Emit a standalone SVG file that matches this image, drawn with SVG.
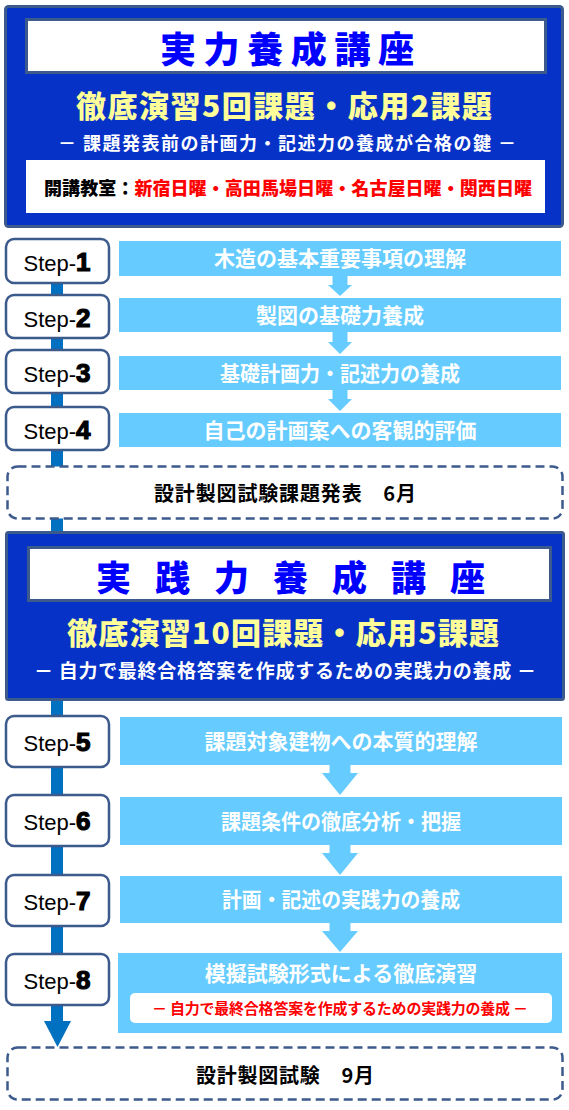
<svg xmlns="http://www.w3.org/2000/svg" width="569" height="1110" viewBox="0 0 569 1110">
<style>
.jp{font-family:'Noto Sans CJK JP','Noto Sans CJK SC',sans-serif;}
.outer{fill:#0632c8;stroke:#3d5a8c;stroke-width:3;}
.tbox{fill:#ffffff;stroke:#3d5a8c;stroke-width:3;}
.title{font-weight:900;fill:#0000ff;}
.yel{font-weight:900;fill:#ffff99;}
.wsub{font-weight:700;fill:#ffffff;}
.stepbox{fill:#ffffff;stroke:#3d5a8c;stroke-width:2.5;}
.steptxt{font-family:'Liberation Sans',Arial,sans-serif;font-size:22px;fill:#000000;}
.num{font-family:'Liberation Sans',Arial,sans-serif;font-weight:700;font-size:26px;stroke:#000;stroke-width:1.2;}
.bar{fill:#66ccff;}
.bartxt{font-weight:700;font-size:21px;fill:#ffffff;}
.dash{fill:#ffffff;stroke:#3d5a8c;stroke-width:2.5;stroke-dasharray:9 5;}
.btxt{font-weight:700;font-size:20px;fill:#000000;}
.conn{fill:#0070c0;}
.arr{fill:#66ccff;}
</style>

<g id="connectors">
  <rect class="conn" x="51" y="280" width="12" height="743"/>
  <polygon class="conn" points="44,1021 71,1021 57.5,1047"/>
  <polygon class="arr" points="332.5,275 347.5,275 347.5,285 352,285 340,296 328,285 332.5,285"/>
  <polygon class="arr" points="332.5,331 347.5,331 347.5,342 352,342 340,354 328,342 332.5,342"/>
  <polygon class="arr" points="332.5,389 347.5,389 347.5,399 352,399 340,411 328,399 332.5,399"/>
  <polygon class="arr" points="329.5,764 350.5,764 350.5,773 358,773 340,795 322,773 329.5,773"/>
  <polygon class="arr" points="329.5,844 350.5,844 350.5,853 358,853 340,875 322,853 329.5,853"/>
  <polygon class="arr" points="329.5,922 350.5,922 350.5,931 358,931 340,952 322,931 329.5,931"/>
</g>

<g id="course1">
  <rect class="outer" x="5.5" y="6.5" width="557" height="220" rx="3"/>
  <rect class="tbox" x="26.5" y="19.5" width="519" height="53"/>
  <text class="jp title" x="160" y="63" font-size="36" textLength="254" lengthAdjust="spacing">実力養成講座</text>
  <text class="jp yel" x="76" y="117" font-size="30" textLength="416" lengthAdjust="spacing">徹底演習5回課題・応用2課題</text>
  <text class="jp wsub" x="58" y="150" font-size="18" textLength="458" lengthAdjust="spacing">－ 課題発表前の計画力・記述力の養成が合格の鍵 －</text>
  <rect x="26" y="160" width="519" height="53" fill="#ffffff"/>
  <text class="jp" x="44" y="195" font-size="18" font-weight="900" textLength="488" lengthAdjust="spacing"><tspan fill="#000000">開講教室：</tspan><tspan fill="#ff0000">新宿日曜・高田馬場日曜・名古屋日曜・関西日曜</tspan></text>
</g>

<g id="step1">
  <rect class="stepbox" x="6" y="239" width="103" height="44" rx="8"/>
  <text x="57" y="271" text-anchor="middle"><tspan class="steptxt">Step-</tspan><tspan class="num">1</tspan></text>
</g>
<g id="bar1">
  <rect class="bar" x="119" y="241" width="442" height="35"/>
  <text class="jp bartxt" x="340" y="266" text-anchor="middle">木造の基本重要事項の理解</text>
</g>

<g id="step2">
  <rect class="stepbox" x="6" y="295" width="103" height="43" rx="8"/>
  <text x="57" y="327" text-anchor="middle"><tspan class="steptxt">Step-</tspan><tspan class="num">2</tspan></text>
</g>
<g id="bar2">
  <rect class="bar" x="119" y="298" width="442" height="34"/>
  <text class="jp bartxt" x="340" y="323" text-anchor="middle">製図の基礎力養成</text>
</g>

<g id="step3">
  <rect class="stepbox" x="6" y="350" width="103" height="43" rx="8"/>
  <text x="57" y="382" text-anchor="middle"><tspan class="steptxt">Step-</tspan><tspan class="num">3</tspan></text>
</g>
<g id="bar3">
  <rect class="bar" x="119" y="356" width="442" height="34"/>
  <text class="jp bartxt" x="340" y="381" text-anchor="middle" textLength="240" lengthAdjust="spacingAndGlyphs">基礎計画力・記述力の養成</text>
</g>

<g id="step4">
  <rect class="stepbox" x="6" y="407" width="103" height="43" rx="8"/>
  <text x="57" y="439" text-anchor="middle"><tspan class="steptxt">Step-</tspan><tspan class="num">4</tspan></text>
</g>
<g id="bar4">
  <rect class="bar" x="119" y="413" width="442" height="34"/>
  <text class="jp bartxt" x="340" y="438" text-anchor="middle">自己の計画案への客観的評価</text>
</g>

<g id="milestone1">
  <rect class="dash" x="7.5" y="466.5" width="555" height="52" rx="10"/>
  <text class="jp btxt" x="154" y="501" textLength="262" lengthAdjust="spacing">設計製図試験課題発表　6月</text>
</g>

<g id="course2">
  <rect class="outer" x="6.5" y="532.5" width="557" height="167" rx="2"/>
  <rect class="tbox" x="28.5" y="547.5" width="522" height="53"/>
  <text class="jp title" x="96" y="591" font-size="35" textLength="389" lengthAdjust="spacing">実践力養成講座</text>
  <text class="jp yel" x="67" y="644" font-size="30" textLength="432" lengthAdjust="spacing">徹底演習10回課題・応用5課題</text>
  <text class="jp wsub" x="34" y="678" font-size="19" textLength="502" lengthAdjust="spacing">－ 自力で最終合格答案を作成するための実践力の養成 －</text>
</g>

<g id="step5">
  <rect class="stepbox" x="6" y="716" width="103" height="51" rx="8"/>
  <text x="57" y="751" text-anchor="middle"><tspan class="steptxt">Step-</tspan><tspan class="num">5</tspan></text>
</g>
<g id="bar5">
  <rect class="bar" x="120" y="717" width="442" height="48"/>
  <text class="jp bartxt" x="341" y="749" text-anchor="middle">課題対象建物への本質的理解</text>
</g>

<g id="step6">
  <rect class="stepbox" x="6" y="795" width="103" height="51" rx="8"/>
  <text x="57" y="830" text-anchor="middle"><tspan class="steptxt">Step-</tspan><tspan class="num">6</tspan></text>
</g>
<g id="bar6">
  <rect class="bar" x="120" y="797" width="442" height="48"/>
  <text class="jp bartxt" x="341" y="829" text-anchor="middle" textLength="240" lengthAdjust="spacingAndGlyphs">課題条件の徹底分析・把握</text>
</g>

<g id="step7">
  <rect class="stepbox" x="6" y="875" width="103" height="51" rx="8"/>
  <text x="57" y="910" text-anchor="middle"><tspan class="steptxt">Step-</tspan><tspan class="num">7</tspan></text>
</g>
<g id="bar7">
  <rect class="bar" x="120" y="876" width="442" height="47"/>
  <text class="jp bartxt" x="341" y="907" text-anchor="middle" textLength="238" lengthAdjust="spacingAndGlyphs">計画・記述の実践力の養成</text>
</g>

<g id="step8">
  <rect class="stepbox" x="6" y="954" width="103" height="51" rx="8"/>
  <text x="57" y="989" text-anchor="middle"><tspan class="steptxt">Step-</tspan><tspan class="num">8</tspan></text>
</g>
<g id="bar8">
  <rect class="bar" x="118" y="953" width="444" height="80"/>
  <text class="jp bartxt" x="341" y="981" text-anchor="middle">模擬試験形式による徹底演習</text>
  <rect x="130" y="993" width="422" height="30" rx="5" fill="#ffffff"/>
  <text class="jp" x="152" y="1014" font-size="15" font-weight="700" fill="#ff0000" textLength="376" lengthAdjust="spacing">－ 自力で最終合格答案を作成するための実践力の養成 －</text>
</g>

<g id="milestone2">
  <rect class="dash" x="7.5" y="1047.5" width="555" height="52" rx="10"/>
  <text class="jp btxt" x="196" y="1083" textLength="178" lengthAdjust="spacing">設計製図試験　9月</text>
</g>
</svg>
